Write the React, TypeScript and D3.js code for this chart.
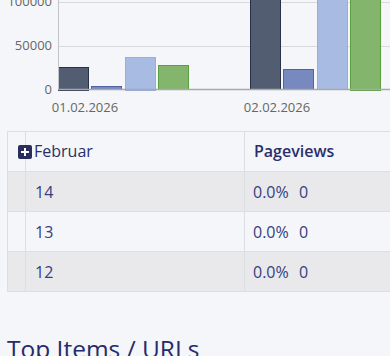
import React from "react";
import * as d3 from "d3";

const categories = ["01.02.2026", "02.02.2026"];
const seriesNames = ["Visits", "Unique", "Pageviews", "Hits"];
const seriesValues = [
  [26000, 130000],
  [3800, 22800],
  [37000, 140000],
  [27300, 135000],
];
const yTicks = [0, 50000, 100000];
const tableHeader = ["Februar", "Pageviews"];
const rowDays = ["14", "13", "12"];
const rowPercent = ["0.0%", "0.0%", "0.0%"];
const rowCounts = [0, 0, 0];
const sectionTitle = "Top Items / URLs";

const fills = ["#535d71", "#7789bf", "#a8bbe3", "#84b56c"];
const strokes = ["#28304a", "#4f63a6", "#97aee1", "#5c9f3f"];

export default function App() {
  const W = 390;
  const H = 356;
  const font = "'Open Sans', sans-serif";
  const y = d3.scaleLinear().domain([0, 100000]).range([89.5, 1.5]);
  const x0 = d3.scaleBand<string>().domain(categories).range([58, 381]).paddingInner(61 / 192).paddingOuter(0);
  const x1 = d3
    .scaleBand<number>()
    .domain(d3.range(seriesNames.length))
    .range([0, x0.bandwidth()])
    .paddingInner(0.08)
    .paddingOuter(0);

  const tableTop = 131.5;
  const rowH = 40;
  const tableLeft = 7.5;
  const col1 = 25.5;
  const col2 = 244.5;

  return (
    <svg
      width={W}
      height={H}
      style={{ position: "absolute", left: 0, top: 0, background: "#f5f6f9" }}
      fontFamily={font}
    >
      <rect x={0} y={0} width={W} height={H} fill="#f5f6f9" />
      {/* grid */}
      {yTicks.slice(1).map((t) => (
        <line key={t} x1={58} x2={W} y1={Math.round(y(t)) + 0.5} y2={Math.round(y(t)) + 0.5} stroke="#d9d9dc" />
      ))}
      {/* bars */}
      <g>
        {categories.map((c, ci) =>
          seriesValues.map((vals, si) => {
            const bx = (x0(c) as number) + (x1(si) as number);
            const top = y(vals[ci]);
            return (
              <rect
                key={c + si}
                x={Math.round(bx) + 0.5}
                y={Math.round(top) + 0.5}
                width={Math.round(x1.bandwidth()) - 1}
                height={Math.round(y(0) - top)}
                fill={fills[si]}
                stroke={strokes[si]}
                strokeWidth={1}
              />
            );
          })
        )}
      </g>
      {/* axes */}
      <line x1={58.5} x2={58.5} y1={0} y2={90} stroke="#c4c4c8" />
      <line x1={58} x2={W} y1={89.5} y2={89.5} stroke="#a9a9ad" strokeWidth={1.5} />
      {yTicks.map((t) => (
        <text key={t} x={52} y={y(t) + 4.5} textAnchor="end" fontSize={13} fill="#666">
          {t}
        </text>
      ))}
      {categories.map((c) => (
        <text key={c} x={(x0(c) as number) + 27} y={111.5} textAnchor="middle" fontSize={13} fill="#666">
          {c}
        </text>
      ))}

      {/* table */}
      {rowDays.map((d, i) => (
        <rect
          key={"bg" + d}
          x={tableLeft}
          y={tableTop + rowH * (i + 1)}
          width={W}
          height={rowH}
          fill={i % 2 === 0 ? "#e9e9ec" : "#f5f6f9"}
        />
      ))}
      {[0, 1, 2, 3, 4].map((i) => (
        <line
          key={"h" + i}
          x1={tableLeft}
          x2={W}
          y1={tableTop + rowH * i}
          y2={tableTop + rowH * i}
          stroke="#dcdee4"
        />
      ))}
      <line x1={tableLeft} x2={tableLeft} y1={tableTop} y2={tableTop + rowH * 4} stroke="#dcdee4" />
      <line x1={col1} x2={col1} y1={tableTop} y2={tableTop + rowH * 4} stroke="#dcdee4" />
      <line x1={col2} x2={col2} y1={tableTop} y2={tableTop + rowH * 4} stroke="#dcdee4" />

      <rect x={18} y={145} width={14} height={14} rx={2} fill="#2b2d5f" />
      <line x1={21} x2={29} y1={152} y2={152} stroke="#fff" strokeWidth={2} />
      <line x1={25} x2={25} y1={148} y2={156} stroke="#fff" strokeWidth={2} />
      <text x={34} y={157} fontSize={16} fontWeight={500} fill="#2a2f6c">
        {tableHeader[0]}
      </text>
      <text x={254} y={157} fontSize={16} fontWeight={600} fill="#2a2f6c">
        {tableHeader[1]}
      </text>
      {rowDays.map((d, i) => (
        <g key={"r" + d}>
          <text x={35} y={tableTop + rowH * (i + 1) + 26} fontSize={16} fill="#34407f">
            {d}
          </text>
          <text x={253} y={tableTop + rowH * (i + 1) + 26} fontSize={16} fill="#34407f">
            {rowPercent[i]}
          </text>
          <text x={299} y={tableTop + rowH * (i + 1) + 26} fontSize={16} fill="#34407f">
            {rowCounts[i]}
          </text>
        </g>
      ))}

      <text x={7} y={358} fontSize={24.5} fontWeight={500} fill="#262b6b">
        {sectionTitle}
      </text>
    </svg>
  );
}
